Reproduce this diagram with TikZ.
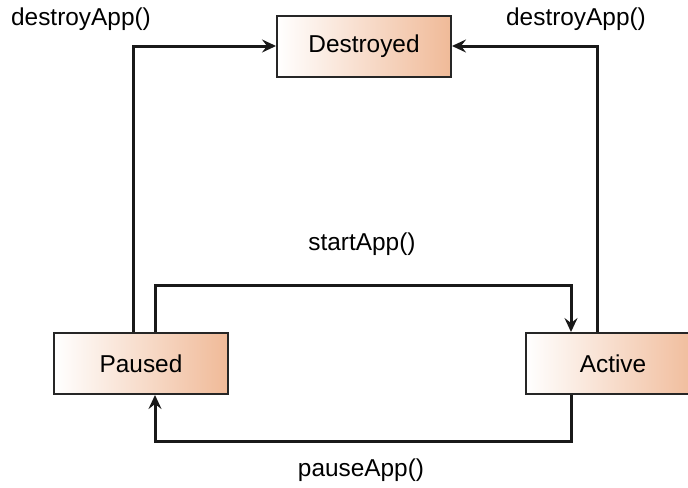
\documentclass[tikz,border=0pt]{standalone}
\usepackage{fontspec}
\setmainfont{Liberation Sans}
\usetikzlibrary{arrows.meta,calc}
\definecolor{peach}{RGB}{240,186,152}
\begin{document}
\begin{tikzpicture}[x=0.5pt,y=-0.5pt,
  state/.style={draw=black!85, line width=1pt, left color=white, right color=peach,
    minimum width=87pt, minimum height=30.5pt, inner sep=0pt,
    font=\fontsize{12.2}{14}\selectfont},
  flow/.style={draw=black!90, line width=1.5pt, line join=miter,
    -{Stealth[length=7pt,width=6.5pt,inset=2.5pt]}},
  lbl/.style={font=\fontsize{12.2}{14}\selectfont}]
\useasboundingbox (0,0) rectangle (688,487);

% states
\node[state] (destroyed) at (364,46) {Destroyed};
\node[state] (paused) at (141,363.5) {Paused};
\node[state] (active) at (613,363.5) {Active};

% routing guides
\coordinate (pl) at (133,0);
\coordinate (pr) at (597,0);
\coordinate (sx) at (155,0);
\coordinate (ax) at (571,0);
\coordinate (ty) at (0,285);
\coordinate (by) at (0,441);

% transitions
\draw[flow] (paused.north -| pl) |- (destroyed.west);
\draw[flow] (active.north -| pr) |- (destroyed.east);
\draw[flow] (paused.north -| sx) -- (sx |- ty) -- (ax |- ty) -- (active.north -| ax);
\draw[flow] (active.south -| ax) -- (ax |- by) -- (sx |- by) -- (paused.south -| sx);

% transition labels
\node[lbl] (ldl) at (81,19) {destroyApp()};
\node[lbl] (ldr) at (576,19) {destroyApp()};
\node[lbl] (lstart) at (362,244) {startApp()};
\node[lbl] (lpause) at (361,470) {pauseApp()};
\end{tikzpicture}
\end{document}
